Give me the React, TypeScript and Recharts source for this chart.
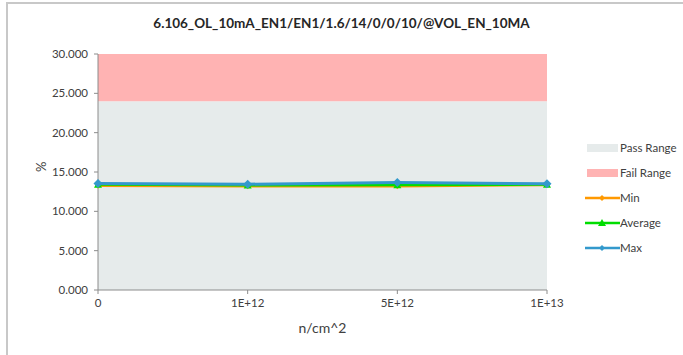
import React from "react";
import { ComposedChart, Area, Line, XAxis, YAxis } from "recharts";

const categories = ["0", "1E+12", "5E+12", "1E+13"];
const minValues = [13.25, 13.2, 13.2, 13.35];
const avgValues = [13.4, 13.3, 13.35, 13.4];
const maxValues = [13.55, 13.45, 13.65, 13.5];
const passLimit = 24;
const failLimit = 30;
const yTicks = [0, 5, 10, 15, 20, 25, 30];

const data = categories.map((c, i) => ({
  cat: c,
  pass: passLimit,
  fail: failLimit - passLimit,
  min: minValues[i],
  avg: avgValues[i],
  max: maxValues[i],
}));

const FONT = "Lato, 'Open Sans', sans-serif";

const Diamond = (props: any) => {
  const { cx, cy, fill, r } = props;
  if (cx == null || cy == null) return null;
  return <polygon points={`${cx},${cy - r} ${cx + r},${cy} ${cx},${cy + r} ${cx - r},${cy}`} fill={fill} />;
};
const Triangle = (props: any) => {
  const { cx, cy, fill, r } = props;
  if (cx == null || cy == null) return null;
  return <polygon points={`${cx},${cy - r} ${cx + r},${cy + r * 0.8} ${cx - r},${cy + r * 0.8}`} fill={fill} />;
};

const legendItems = [
  { label: "Pass Range", type: "rect", color: "#e6ebeb" },
  { label: "Fail Range", type: "rect", color: "#ffb3b3" },
  { label: "Min", type: "line", color: "#ff9900", marker: "diamond" },
  { label: "Average", type: "line", color: "#00dd00", marker: "triangle" },
  { label: "Max", type: "line", color: "#3399cc", marker: "diamond" },
];

const LegendContent = () => (
  <div style={{ fontFamily: FONT, fontSize: 11.5, color: "#404040" }}>
    {legendItems.map((it) => (
      <div key={it.label} style={{ display: "flex", alignItems: "center", height: 25 }}>
        <svg width={35} height={10} style={{ marginRight: 0 }}>
          {it.type === "rect" ? (
            <rect x={2} y={1} width={31} height={8} fill={it.color} />
          ) : (
            <g>
              <line x1={0} y1={5} x2={35} y2={5} stroke={it.color} strokeWidth={2.5} />
              {it.marker === "triangle" ? (
                <polygon points="17,1 21,8 13,8" fill={it.color} />
              ) : (
                <polygon points="17,2 20,5 17,8 14,5" fill={it.color} />
              )}
            </g>
          )}
        </svg>
        <span>{it.label}</span>
      </div>
    ))}
  </div>
);

export default function App() {
  return (
    <div style={{ position: "absolute", left: 0, top: 0, width: 683, height: 355, background: "#fff" }}>
      <div style={{ position: "absolute", left: 6, top: 2, width: 677, height: 353, borderLeft: "2px solid #c8c8c8", borderTop: "2px solid #c8c8c8", boxSizing: "border-box" }} />
      <div style={{ position: "absolute", left: 0, top: 15, width: 683, textAlign: "center", fontFamily: FONT, fontWeight: "bold", fontSize: 13.5, color: "#262626" }}>
        6.106_OL_10mA_EN1/EN1/1.6/14/0/0/10/@VOL_EN_10MA
      </div>
      <div style={{ position: "absolute", left: 0, top: 0 }}>
        <ComposedChart width={683} height={355} data={data} margin={{ top: 54, right: 136, bottom: 0, left: 30 }}>
          <XAxis
            dataKey="cat"
            tickLine={{ stroke: "#8c8c8c" }}
            axisLine={{ stroke: "#8c8c8c" }}
            tickSize={4}
            tick={{ fontFamily: FONT, fontSize: 11.5, fill: "#404040" }}
            tickMargin={5}
            height={65}
            interval={0}
            label={{ value: "n/cm^2", position: "insideTop", dy: 28, fontFamily: FONT, fontSize: 14, fill: "#404040" }}
          />
          <YAxis
            domain={[0, 30]}
            ticks={yTicks}
            tickFormatter={(v: number) => v.toFixed(3)}
            tickLine={{ stroke: "#8c8c8c" }}
            axisLine={{ stroke: "#8c8c8c" }}
            tickSize={4}
            tickMargin={6}
            width={68}
            interval={0}
            tick={{ fontFamily: FONT, fontSize: 11.5, fill: "#404040" }}
            label={{ value: "%", angle: -90, position: "insideLeft", dx: 6, fontFamily: FONT, fontSize: 13, fill: "#404040" }}
          />
          <Area dataKey="pass" stackId="r" type="linear" stroke="none" fill="#e6ebeb" fillOpacity={1} isAnimationActive={false} dot={false} activeDot={false} />
          <Area dataKey="fail" stackId="r" type="linear" stroke="none" fill="#ffb3b3" fillOpacity={1} isAnimationActive={false} dot={false} activeDot={false} />
          <Line dataKey="min" type="linear" stroke="#ff9900" strokeWidth={2.5} isAnimationActive={false} dot={(p: any) => <Diamond key={`mn${p.index}`} {...p} fill="#ff9900" r={3} />} activeDot={false} />
          <Line dataKey="avg" type="linear" stroke="#00dd00" strokeWidth={2.5} isAnimationActive={false} dot={(p: any) => <Triangle key={`av${p.index}`} {...p} fill="#00dd00" r={4} />} activeDot={false} />
          <Line dataKey="max" type="linear" stroke="#3399cc" strokeWidth={3} isAnimationActive={false} dot={(p: any) => <Diamond key={`mx${p.index}`} {...p} fill="#3399cc" r={4.5} />} activeDot={false} />
        </ComposedChart>
      </div>
      <div style={{ position: "absolute", left: 585, top: 135 }}>
        <LegendContent />
      </div>
    </div>
  );
}
